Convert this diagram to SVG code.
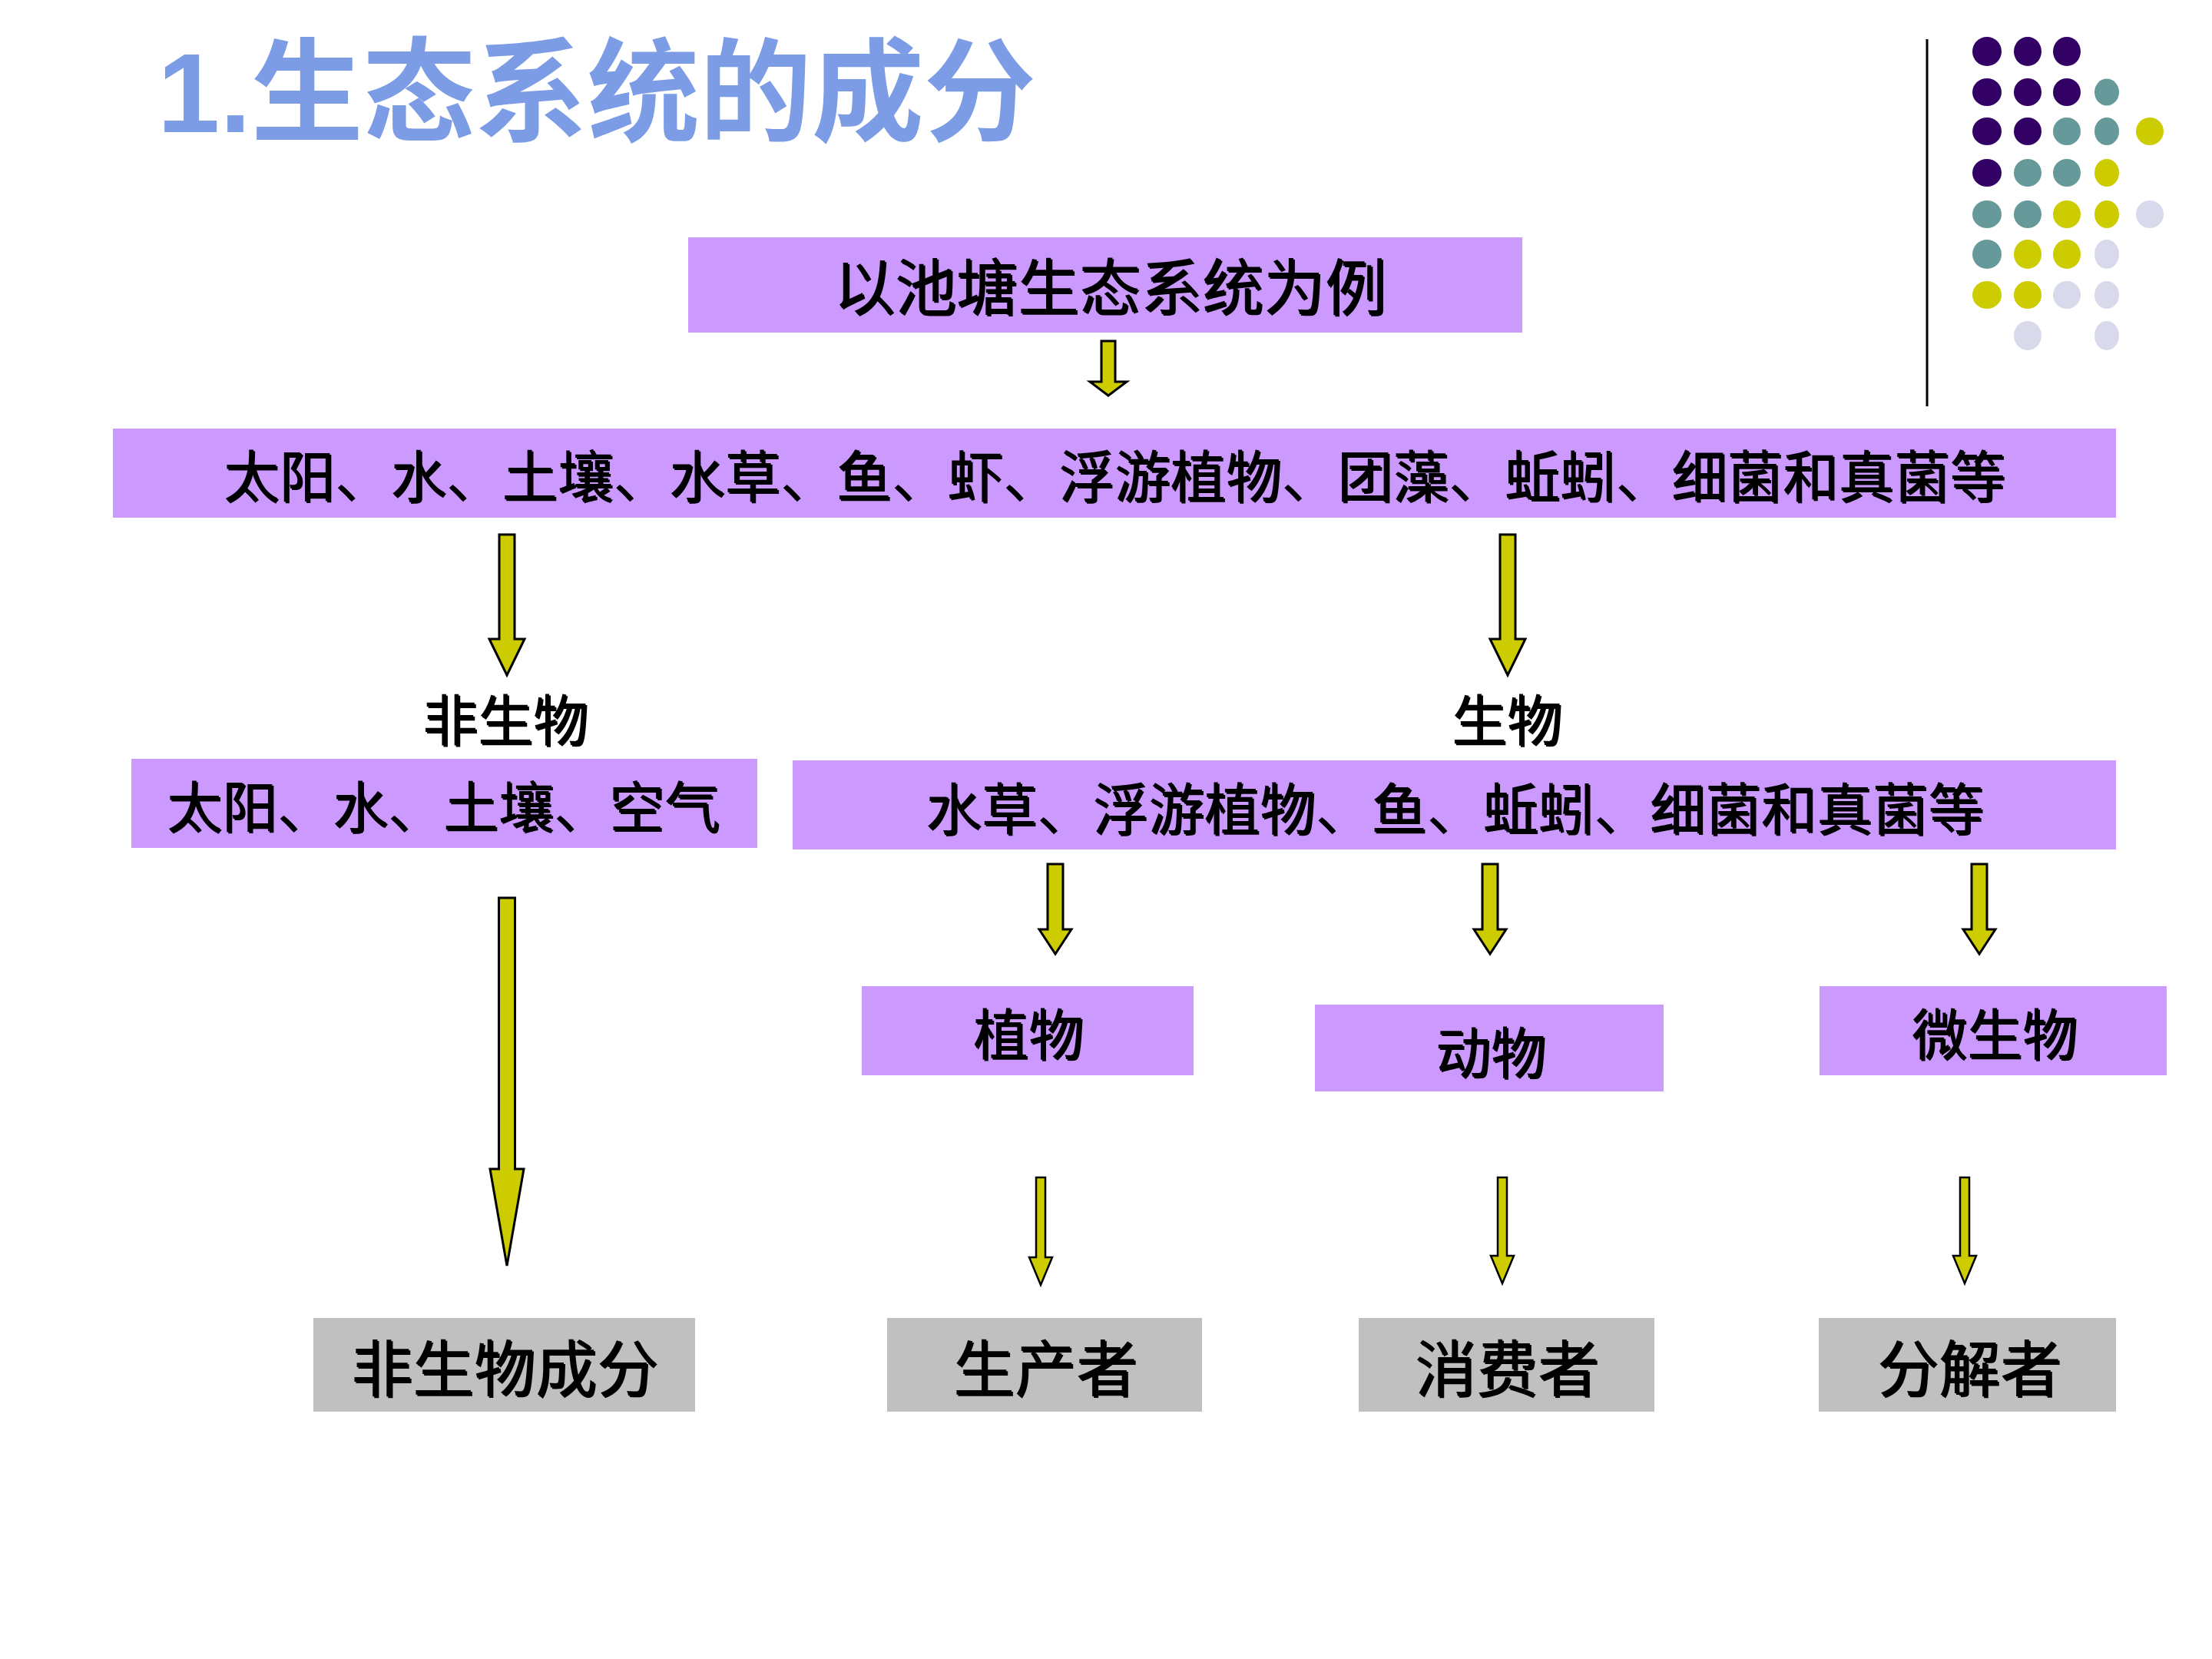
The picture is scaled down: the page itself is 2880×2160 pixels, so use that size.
<svg xmlns="http://www.w3.org/2000/svg" width="2880" height="2160" viewBox="0 0 2880 2160">
<defs>
<style>
.bg{fill:#ffffff}
.pb{fill:#CC99FF}
.gb{fill:#C0C0C0}
.t{font-family:"Noto Sans CJK SC","Noto Sans CJK TC",sans-serif;fill:#000;text-anchor:middle;filter:url(#sh)}
.arr{fill:#CCCC00;stroke:#000;stroke-width:3;stroke-linejoin:miter}
.arr2{fill:#CCCC00;stroke:#000;stroke-width:2.5;stroke-linejoin:miter}
.p{fill:#330066}.q{fill:#669999}.y{fill:#CCCC00}.l{fill:#D9D9EC}
</style>
<filter id="sh" x="-5%" y="-20%" width="110%" height="140%">
<feOffset in="SourceGraphic" dx="2" dy="2" result="o"/>
<feMerge><feMergeNode in="o"/><feMergeNode in="SourceGraphic"/></feMerge>
</filter>
</defs>
<rect class="bg" x="0" y="0" width="2880" height="2160"/>

<g id="title">
<text x="205" y="172" font-family="'Liberation Sans','Noto Sans CJK SC',sans-serif" font-weight="bold" font-size="146" fill="#7C9CE6">1.生态系统的成分</text>
</g>

<g id="decor">
<rect x="2507.5" y="51" width="3" height="478" fill="#000"/>
<ellipse class="p" cx="2587" cy="67" rx="19" ry="19"/>
<ellipse class="p" cx="2640" cy="67" rx="18" ry="19"/>
<ellipse class="p" cx="2691" cy="67" rx="18" ry="19"/>
<ellipse class="p" cx="2587" cy="120" rx="19" ry="18"/>
<ellipse class="p" cx="2640" cy="120" rx="18" ry="18"/>
<ellipse class="p" cx="2691" cy="120" rx="18" ry="18"/>
<ellipse class="q" cx="2743" cy="120" rx="16" ry="17.5"/>
<ellipse class="p" cx="2587" cy="171" rx="19" ry="18"/>
<ellipse class="p" cx="2640" cy="171" rx="18" ry="18"/>
<ellipse class="q" cx="2691" cy="171" rx="18" ry="18"/>
<ellipse class="q" cx="2743" cy="171" rx="16" ry="18"/>
<ellipse class="y" cx="2799" cy="171" rx="18" ry="18"/>
<ellipse class="p" cx="2587" cy="225" rx="19" ry="18"/>
<ellipse class="q" cx="2640" cy="225" rx="18" ry="18"/>
<ellipse class="q" cx="2691" cy="225" rx="18" ry="18"/>
<ellipse class="y" cx="2743" cy="225" rx="16" ry="18"/>
<ellipse class="q" cx="2587" cy="279" rx="19" ry="18"/>
<ellipse class="q" cx="2640" cy="279" rx="18" ry="18"/>
<ellipse class="y" cx="2691" cy="279" rx="18" ry="18"/>
<ellipse class="y" cx="2743" cy="279" rx="16" ry="18"/>
<ellipse class="l" cx="2799" cy="279" rx="18" ry="18"/>
<ellipse class="q" cx="2587" cy="331" rx="19" ry="19"/>
<ellipse class="y" cx="2640" cy="331" rx="18" ry="19"/>
<ellipse class="y" cx="2691" cy="331" rx="18" ry="19"/>
<ellipse class="l" cx="2743" cy="331" rx="16" ry="19"/>
<ellipse class="y" cx="2587" cy="384" rx="19" ry="18"/>
<ellipse class="y" cx="2640" cy="384" rx="18" ry="18"/>
<ellipse class="l" cx="2691" cy="384" rx="18" ry="18"/>
<ellipse class="l" cx="2743" cy="384" rx="16" ry="18"/>
<ellipse class="l" cx="2640" cy="437" rx="18" ry="19"/>
<ellipse class="l" cx="2743" cy="437" rx="16" ry="19"/>
</g>

<g id="n-example">
<rect class="pb" x="896" y="309" width="1086" height="124"/>
<text class="t" x="1445" y="403" font-size="80">以池塘生态系统为例</text>
</g>

<g id="n-all">
<rect class="pb" x="147" y="558" width="2608" height="116"/>
<text class="t" x="1451" y="647" font-size="72.5">太阳、水、土壤、水草、鱼、虾、浮游植物、团藻、蚯蚓、细菌和真菌等</text>
</g>

<g id="n-abiotic-label">
<text class="t" x="658" y="964" font-size="72">非生物</text>
</g>

<g id="n-biotic-label">
<text class="t" x="1962" y="964" font-size="72">生物</text>
</g>

<g id="n-abiotic">
<rect class="pb" x="171" y="988" width="815" height="116"/>
<text class="t" x="577" y="1077" font-size="72">太阳、水、土壤、空气</text>
</g>

<g id="n-biotic">
<rect class="pb" x="1032" y="990" width="1723" height="116"/>
<text class="t" x="1894" y="1080" font-size="72.5">水草、浮游植物、鱼、蚯蚓、细菌和真菌等</text>
</g>

<g id="n-plant">
<rect class="pb" x="1122" y="1284" width="432" height="116"/>
<text class="t" x="1339" y="1373" font-size="72">植物</text>
</g>

<g id="n-animal">
<rect class="pb" x="1712" y="1308" width="454" height="113"/>
<text class="t" x="1941" y="1397" font-size="72">动物</text>
</g>

<g id="n-microbe">
<rect class="pb" x="2369" y="1284" width="452" height="116"/>
<text class="t" x="2597" y="1373" font-size="72">微生物</text>
</g>

<g id="n-abiotic-comp">
<rect class="gb" x="408" y="1716" width="497" height="122"/>
<text class="t" x="657" y="1811" font-size="80">非生物成分</text>
</g>

<g id="n-producer">
<rect class="gb" x="1155" y="1716" width="410" height="122"/>
<text class="t" x="1361" y="1811" font-size="80">生产者</text>
</g>

<g id="n-consumer">
<rect class="gb" x="1769" y="1716" width="385" height="122"/>
<text class="t" x="1962" y="1811" font-size="80">消费者</text>
</g>

<g id="n-decomposer">
<rect class="gb" x="2368" y="1716" width="387" height="122"/>
<text class="t" x="2564" y="1811" font-size="80">分解者</text>
</g>

<g id="connectors">
<polygon class="arr" points="1434,444 1452,444 1452,497 1467,497 1443,515 1419,497 1434,497"/>
<polygon class="arr" points="650,696 670,696 670,832 683,832 660,879 637,832 650,832"/>
<polygon class="arr" points="1953,696 1973,696 1973,832 1986,832 1963,879 1940,832 1953,832"/>
<polygon class="arr" points="1364,1125 1384,1125 1384,1210 1395,1210 1374,1242 1353,1210 1364,1210"/>
<polygon class="arr" points="1930,1125 1950,1125 1950,1210 1961,1210 1940,1242 1919,1210 1930,1210"/>
<polygon class="arr" points="2567,1125 2587,1125 2587,1210 2598,1210 2577,1242 2556,1210 2567,1210"/>
<polygon class="arr" points="649.5,1169 670.5,1169 670.5,1522 682,1522 660,1648 638,1522 649.5,1522"/>
<polygon class="arr2" points="1349,1533 1361,1533 1361,1637 1370,1637 1355,1673 1340,1637 1349,1637"/>
<polygon class="arr2" points="1950,1533 1962,1533 1962,1635 1971,1635 1956,1671 1941,1635 1950,1635"/>
<polygon class="arr2" points="2552,1533 2564,1533 2564,1635 2573,1635 2558,1671 2543,1635 2552,1635"/>
</g>
</svg>
